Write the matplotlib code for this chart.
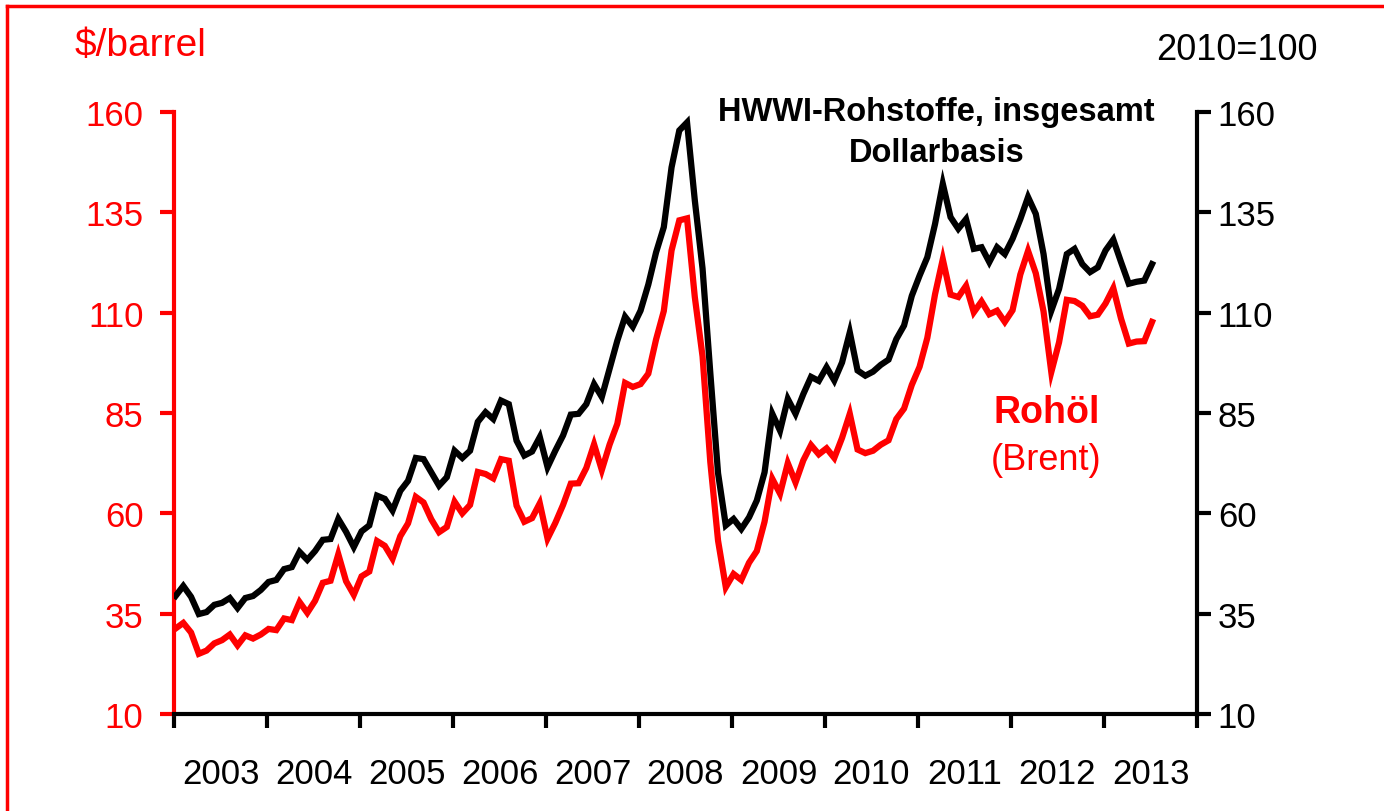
import numpy as np
import matplotlib
matplotlib.use('Agg')
import matplotlib.pyplot as plt
from matplotlib.lines import Line2D

plt.rcParams['font.family'] = ['Liberation Sans', 'DejaVu Sans']

# monthly values, Jan 2003 - Jul 2013
brent = [31.3, 32.7, 30.3, 25.0, 25.8, 27.6, 28.4, 29.8, 27.1, 29.6, 28.8, 29.8,
         31.2, 30.9, 33.8, 33.4, 37.9, 35.2, 38.2, 42.7, 43.2, 49.8, 43.1, 39.7,
         44.3, 45.5, 53.1, 51.9, 48.7, 54.3, 57.5, 64.1, 62.7, 58.5, 55.3, 56.6,
         62.9, 60.0, 62.1, 70.3, 69.8, 68.7, 73.5, 73.1, 61.9, 57.9, 58.8, 62.5,
         53.7, 57.6, 62.1, 67.4, 67.5, 71.3, 77.2, 70.8, 77.1, 82.3, 92.5, 91.5,
         92.2, 94.8, 103.3, 110.4, 125.5, 133.0, 133.5, 113.9, 99.1, 72.8, 53.2, 41.6,
         44.9, 43.4, 47.7, 50.6, 57.9, 68.6, 64.9, 72.5, 67.7, 73.2, 77.0, 74.7,
         76.2, 73.8, 78.8, 84.8, 75.9, 75.0, 75.6, 77.1, 78.2, 83.5, 86.1, 92.0,
         96.5, 103.7, 114.6, 123.3, 114.5, 113.9, 116.7, 110.1, 112.8, 109.6, 110.5, 107.7,
         110.6, 119.5, 125.4, 119.8, 110.3, 95.2, 102.6, 113.2, 112.9, 111.7, 109.1, 109.5,
         112.3, 116.1, 108.5, 102.3, 102.8, 102.9, 107.7]

hwwi = [39.4, 41.9, 39.2, 34.9, 35.4, 37.2, 37.7, 38.9, 36.4, 38.9, 39.4, 40.9,
        42.9, 43.4, 46.1, 46.6, 50.4, 48.4, 50.6, 53.4, 53.6, 58.6, 55.4, 51.6,
        55.5, 57.0, 64.4, 63.6, 60.7, 65.6, 68.1, 73.8, 73.5, 70.2, 66.9, 69.0,
        75.6, 73.8, 75.6, 82.8, 85.2, 83.5, 88.1, 87.2, 78.1, 74.4, 75.4, 79.0,
        71.5, 75.6, 79.4, 84.6, 84.8, 87.2, 92.2, 89.0, 96.0, 103.0, 109.0, 106.5,
        110.5, 117.0, 125.0, 131.3, 146.2, 155.4, 157.4, 138.0, 121.0, 95.0, 70.0, 57.0,
        58.6, 56.1, 59.0, 63.2, 70.2, 84.8, 80.6, 88.5, 84.8, 89.7, 94.0, 93.0,
        96.4, 93.1, 97.6, 105.1, 95.6, 94.3, 95.3, 97.0, 98.3, 103.4, 106.8, 114.2,
        119.2, 123.8, 132.1, 142.1, 133.8, 130.9, 133.3, 125.9, 126.3, 122.6, 126.3, 124.6,
        128.4, 133.3, 138.8, 134.6, 124.6, 110.5, 115.9, 124.6, 125.9, 122.1, 120.1, 121.3,
        125.5, 128.2, 122.6, 117.2, 117.7, 118.0, 122.1]

years = list(range(2003, 2014))
yticks = [10, 35, 60, 85, 110, 135, 160]

x = 2003 + (np.arange(len(brent)) + 0.2) / 12

fig = plt.figure(figsize=(13.84, 8.12), dpi=100)
ax = fig.add_axes([174/1384, 1 - 715/812, (1197-174)/1384, (715-113)/812])
ax2 = ax.twinx()

ax2.plot(x, hwwi, color='black', lw=4.5, solid_joinstyle='miter', zorder=3)
ax2.plot(x, brent, color='#ff0000', lw=4.5, solid_joinstyle='miter', zorder=2)

for a in (ax, ax2):
    a.set_ylim(10, 160)
    a.set_yticks(yticks)
    a.set_xlim(2003, 2014)
    a.spines['top'].set_visible(False)

# left axis in red
ax.spines['left'].set_color('#ff0000')
ax.spines['left'].set_linewidth(3)
ax.spines['bottom'].set_linewidth(3)
ax.spines['right'].set_visible(False)
ax.tick_params(axis='y', colors='#ff0000', labelsize=25, length=10, width=3, pad=12)
ax2.spines['left'].set_visible(False)
ax2.spines['bottom'].set_visible(False)
ax2.spines['right'].set_linewidth(3)
ax2.tick_params(axis='y', colors='black', labelsize=25, length=10, width=3, pad=5)

ax.set_xticks(list(range(2003, 2015)))
ax.set_xticklabels([])
ax.set_xticks([y + 0.5 for y in years], minor=True)
ax.set_xticklabels([str(y) for y in years], minor=True)
ax.tick_params(axis='x', which='major', length=10, width=3, direction='out')
ax.tick_params(axis='x', which='minor', length=0, labelsize=25, pad=31)

fig.text(75/1384, 1 - 46/812, '$/barrel', color='#ff0000', fontsize=28, va='center', ha='left')
fig.text(1318/1384, 1 - 50/812, '2010=100', color='black', fontsize=26, va='center', ha='right')

ax2.text(2011.2, 160, 'HWWI-Rohstoffe, insgesamt', fontsize=23.5, fontweight='bold',
         ha='center', va='center', color='black')
ax2.text(2011.2, 150, 'Dollarbasis', fontsize=23.5, fontweight='bold',
         ha='center', va='center', color='black')
ax2.text(2012.38, 85.3, 'Rohöl', fontsize=27, fontweight='bold',
         ha='center', va='center', color='#ff0000')
ax2.text(2012.38, 73.5, '(Brent)', fontsize=26, ha='center', va='center', color='#ff0000')

# red frame
fig.add_artist(Line2D([7/1384, 1], [1 - 7/812, 1 - 7/812], color='#ff0000', lw=2.5))
fig.add_artist(Line2D([7/1384, 7/1384], [0, 1 - 7/812], color='#ff0000', lw=2.5))

fig.savefig('out.png', dpi=100)
